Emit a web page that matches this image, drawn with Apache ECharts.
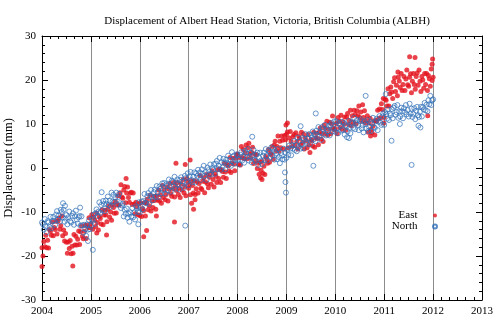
<!DOCTYPE html>
<html>
<head>
<meta charset="utf-8">
<script src="https://cdn.jsdelivr.net/npm/echarts@6/dist/echarts.min.js"></script>
<style>
html,body{margin:0;padding:0;background:#fff;}
#chart{width:500px;height:325px;}
</style>
</head>
<body>
<div id="chart"></div>
<script>
// weekly readings (mm), 52 per year
var east2004 = [-18.1,-20.0,-16.7,-17.9,-15.3,-18.1,-16.4,-18.2,-14.0,-14.4,-15.3,-12.3,-15.4,-13.5,-14.0,-12.1,-15.0,-12.1,-11.4,-13.9,-13.1,-10.9,-15.4,-14.1,-16.6,-14.9,-16.9,-19.4,-16.8,-18.3,-16.5,-19.5,-17.8,-19.4,-15.1,-17.5,-15.5,-17.5,-16.2,-14.3,-17.4,-14.5,-13.2,-15.5,-16.1,-14.4,-13.0,-16.0,-13.0,-13.5,-11.3,-13.5];
var east2005 = [-12.6,-10.6,-13.9,-11.2,-11.8,-13.3,-10.2,-12.4,-14.1,-11.0,-11.5,-12.7,-9.5,-12.9,-10.7,-9.6,-10.7,-12.2,-9.4,-8.6,-11.2,-10.0,-11.9,-8.3,-9.0,-10.3,-7.6,-10.2,-8.4,-6.3,-8.4,-5.6,-3.8,-6.6,-6.9,-5.0,-4.2,-7.9,-5.7,-4.3,-6.7,-7.8,-5.7,-5.5,-8.3,-5.7,-8.2,-10.4,-7.8,-8.8,-10.6,-8.1];
var east2006 = [-10.8,-7.9,-11.0,-9.2,-9.7,-7.9,-10.9,-7.9,-7.1,-9.5,-8.6,-6.2,-9.8,-7.5,-9.0,-6.4,-7.4,-9.4,-6.3,-7.3,-5.0,-7.5,-6.1,-8.0,-4.0,-6.7,-5.0,-7.2,-6.0,-4.3,-7.5,-4.8,-3.5,-5.8,-6.4,-4.7,-3.3,-6.6,-4.1,-5.1,-3.3,-6.0,-4.6,-6.7,-3.6,-5.0,-2.6,-5.6,-4.2,-6.3,-2.4,-3.1];
var east2007 = [-4.6,-3.8,-6.1,-2.9,-4.0,-5.7,-2.9,-6.0,-4.7,-3.1,-5.7,-3.5,-1.7,-4.6,-4.9,-3.0,-2.2,-5.6,-3.2,-1.5,-3.6,-4.5,-2.1,-1.4,-3.7,-0.6,-2.6,-4.3,-1.3,-1.9,-3.3,-0.4,-2.4,-0.2,-3.3,-0.4,-0.8,-2.1,1.1,-0.9,-2.4,0.8,0.5,-0.7,2.4,-1.0,1.1,2.2,0.9,-0.6,2.2,3.0];
var east2008 = [3.2,0.8,2.4,0.7,4.9,2.4,4.2,2.1,3.4,5.2,2.1,4.6,5.6,3.1,2.2,3.6,4.7,1.0,3.1,1.7,3.0,-0.1,1.1,-1.4,1.3,-0.5,1.5,-1.2,0.4,-1.5,2.6,2.1,1.1,4.2,1.3,3.3,3.0,4.9,2.0,5.2,6.1,3.9,4.9,7.3,3.8,6.1,4.6,7.3,6.3,4.3,7.4,6.4];
var east2009 = [7.6,8.2,4.6,6.8,8.3,6.0,4.9,7.1,7.6,5.1,8.0,6.0,4.3,7.3,6.7,5.2,8.1,5.8,7.7,4.3,6.9,6.2,4.6,7.6,5.3,3.5,6.5,6.2,5.0,8.1,4.7,6.8,7.9,6.7,5.3,8.2,9.1,6.6,7.8,6.0,9.7,9.0,7.8,10.6,7.5,8.8,10.4,7.8,10.0,11.8,9.0,8.7];
var east2010 = [8.9,10.1,7.8,11.5,10.6,9.2,12.0,8.8,10.5,9.9,11.6,8.6,11.6,12.4,9.9,10.8,13.1,9.6,11.9,10.4,13.1,12.1,10.0,13.0,11.9,14.1,11.5,12.7,10.6,14.4,11.5,13.0,10.2,10.8,11.9,8.1,10.2,11.3,8.8,8.0,9.5,10.7,7.5,10.8,10.6,13.1,11.2,13.4,11.4,14.6,13.3,15.8];
var east2011 = [11.5,15.6,15.4,14.1,18.0,14.1,16.9,18.4,17.3,15.8,19.6,20.5,17.4,18.8,16.4,20.7,19.8,18.3,21.5,17.6,19.0,20.8,17.6,20.2,22.3,18.9,18.6,20.6,21.4,17.1,19.7,21.5,19.0,17.9,20.8,21.6,18.8,22.3,19.7,17.4,20.8,20.0,18.1,21.5,19.0,21.5,17.6,21.0,20.3,18.6,22.5,19.9];
// isolated east points [year, mm]
var eastExtra = [[2004.0,-22.4],[2004.63,-22.3],[2005.12,-14.8],[2005.32,-15.2],[2005.72,-2.4],[2006.08,-15.6],[2006.14,-14.2],[2006.34,-10.9],[2006.71,-12.3],[2006.74,1.1],[2006.93,0.8],[2007.03,1.8],[2007.06,-8.0],[2007.10,-9.4],[2007.13,-7.2],[2008.47,-2.2],[2008.5,-2.6],[2008.99,9.8],[2009.02,10.2],[2010.72,7.3],[2010.99,10.2],[2011.28,21.8],[2011.52,25.3],[2011.63,25.1],[2011.89,11.9],[2011.98,23.6],[2011.99,24.8],[2012.0,20.6]];

var north2004 = [-12.4,-12.8,-14.0,-11.6,-13.3,-14.6,-12.1,-12.4,-13.4,-11.1,-13.7,-12.1,-11.1,-12.0,-12.9,-10.6,-9.8,-11.7,-10.8,-12.2,-9.5,-10.0,-11.2,-9.5,-12.2,-11.5,-10.7,-12.8,-11.2,-9.9,-12.1,-12.4,-10.9,-10.3,-12.9,-11.0,-9.7,-11.7,-12.6,-11.2,-10.9,-13.1,-11.0,-13.0,-14.7,-12.9,-13.9,-15.4,-12.8,-14.0,-11.9,-13.9];
var north2005 = [-13.1,-11.6,-12.0,-10.6,-12.7,-10.3,-9.4,-10.9,-9.9,-7.8,-10.2,-8.4,-9.6,-7.5,-8.2,-9.8,-7.4,-8.2,-6.5,-8.5,-7.4,-8.8,-5.6,-7.6,-6.1,-7.7,-6.7,-5.6,-8.3,-6.6,-5.9,-8.0,-9.1,-8.5,-8.1,-11.0,-9.5,-10.4,-9.2,-11.3,-10.4,-12.2,-10.1,-11.0,-9.1,-11.2,-10.1,-11.7,-8.7,-9.1,-10.0,-7.8];
var north2006 = [-10.1,-8.9,-7.6,-9.4,-7.5,-5.9,-7.9,-8.0,-6.4,-5.7,-8.2,-6.3,-5.0,-6.7,-7.3,-5.5,-4.9,-6.6,-4.1,-5.5,-6.6,-4.2,-4.7,-5.7,-3.5,-5.1,-3.4,-5.8,-3.7,-4.0,-5.1,-2.6,-4.2,-5.4,-2.9,-3.2,-4.2,-2.0,-4.7,-3.3,-2.6,-3.7,-4.9,-2.7,-2.1,-4.0,-3.1,-4.5,-1.8,-2.3,-3.2,-1.2];
var north2007 = [-3.9,-1.9,-0.9,-2.7,-3.2,-2.0,-1.0,-3.3,-1.2,-1.8,-0.4,-2.2,-1.0,-2.7,-0.3,-1.3,0.5,-1.8,-0.9,-2.7,0.1,-0.5,-1.4,0.8,-1.5,0.0,-0.4,0.9,-1.3,1.0,1.6,-0.2,0.5,2.3,-0.4,1.3,0.1,2.1,1.3,-0.3,1.9,1.1,2.8,0.8,1.9,0.5,3.6,1.5,2.8,1.0,1.8,3.1];
var north2008 = [2.9,1.9,0.8,3.0,3.6,1.7,2.6,1.2,3.9,3.4,2.5,4.3,1.7,2.6,3.5,1.3,2.8,4.1,1.9,1.6,3.0,3.5,0.7,2.4,3.5,1.7,0.9,2.8,3.5,1.8,4.3,2.9,1.7,4.0,3.5,2.5,4.7,2.9,4.4,1.9,3.8,3.3,2.0,4.3,2.5,1.1,3.4,2.9,2.0,4.4,1.9,3.5];
var north2009 = [2.3,4.1,3.0,5.1,4.4,2.9,5.2,4.4,6.1,4.1,5.2,3.8,6.9,4.8,6.1,4.4,5.3,6.8,4.5,6.6,7.7,6.0,5.5,6.7,7.7,5.4,7.5,6.9,8.3,6.5,7.7,6.1,8.5,7.5,9.3,7.1,8.1,6.4,9.3,8.8,7.7,9.8,7.4,8.8,8.3,9.6,7.4,9.7,10.2,8.3,8.9,10.6];
var north2010 = [8.2,10.6,9.1,7.9,10.2,9.7,8.5,10.5,8.7,10.2,7.6,9.7,9.4,8.3,10.7,9.1,7.9,10.4,10.1,9.1,11.4,8.8,10.2,10.9,9.8,8.6,10.7,11.1,9.0,9.7,8.1,10.6,10.0,9.0,10.9,8.4,9.3,10.4,8.4,10.1,11.4,9.3,9.1,10.6,11.2,8.6,10.5,11.8,10.3,9.8,11.7,12.4];
var north2011 = [9.8,12.7,12.2,11.2,13.3,10.9,12.4,12.0,13.4,11.3,13.7,14.1,12.1,12.7,14.3,11.4,12.9,11.7,13.7,12.9,11.3,13.6,12.7,14.3,12.2,13.2,11.7,14.6,12.3,13.5,11.6,12.3,13.6,11.1,13.0,13.9,12.0,11.6,12.8,13.9,11.7,13.8,13.3,14.8,13.1,14.4,12.9,15.4,14.5,16.4,14.3,15.4];
// isolated north points [year, mm]
var northExtra = [[2004.43,-8.0],[2004.47,-8.6],[2004.78,-9.0],[2004.94,-16.6],[2005.04,-18.6],[2005.22,-5.5],[2005.97,-12.8],[2006.93,-13.1],[2008.3,7.1],[2008.97,-1.0],[2008.98,-3.2],[2008.99,-5.6],[2009.29,9.5],[2009.55,0.5],[2009.6,12.4],[2010.24,7.0],[2010.28,6.8],[2010.62,16.4],[2011.03,16.8],[2011.15,6.2],[2011.32,10.0],[2011.56,0.7],[2011.7,9.6],[2011.74,9.2],[2012.0,15.6]];

var years = [2004, 2005, 2006, 2007, 2008, 2009, 2010, 2011];
var eastYears = [east2004, east2005, east2006, east2007, east2008, east2009, east2010, east2011];
var northYears = [north2004, north2005, north2006, north2007, north2008, north2009, north2010, north2011];

function buildSeries(yearArrays, extra){
	var out = [];
	for(var y = 0; y < years.length; y++){
		var arr = yearArrays[y];
		for(var i = 0; i < arr.length; i++){
			out.push([years[y] + i / 52, arr[i]]);
		}
	}
	for(var k = 0; k < extra.length; k++){
		out.push(extra[k]);
	}
	return out;
}

var serif = 'Liberation Serif, Times New Roman, serif';
var redColor = '#e3131e';
var blueColor = '#2f6fb8';

function frameAxis(pos, showLabel, min, max, interval, minorSplit, split){
	return {
		type: 'value',
		position: pos,
		min: min,
		max: max,
		interval: interval,
		axisLine: {show: true, onZero: false, lineStyle: {color: '#000', width: 1}},
		axisTick: {show: true, inside: true, length: 6, lineStyle: {color: '#000'}},
		minorTick: {show: true, splitNumber: minorSplit, length: 3, lineStyle: {color: '#000'}},
		axisLabel: {show: showLabel, fontFamily: serif, fontSize: 11, color: '#000', margin: 6,
			formatter: function(v){ return String(v); }},
		splitLine: {show: split, lineStyle: {color: '#8c8c8c', width: 1}}
	};
}

var xBottom = frameAxis('bottom', true, 2004, 2013, 1, 6, true);
var xTop = frameAxis('top', false, 2004, 2013, 1, 6, false);
var yLeft = frameAxis('left', true, -30, 30, 10, 5, false);
yLeft.name = 'Displacement (mm)';
yLeft.nameLocation = 'middle';
yLeft.nameGap = 27;
yLeft.nameMoveOverlap = false;
yLeft.nameTextStyle = {fontFamily: serif, fontSize: 12.5, color: '#000'};
var yRight = frameAxis('right', false, -30, 30, 10, 5, false);

var option = {
	animation: false,
	backgroundColor: '#fff',
	title: {
		text: 'Displacement of Albert Head Station, Victoria, British Columbia (ALBH)',
		left: 262,
		textAlign: 'center',
		top: 11,
		textStyle: {fontFamily: serif, fontSize: 11, fontWeight: 'normal', color: '#000'}
	},
	legend: {
		orient: 'vertical',
		right: 57,
		top: 205,
		align: 'right',
		itemWidth: 25,
		itemHeight: 4,
		itemGap: 0,
		textStyle: {fontFamily: serif, fontSize: 11, color: '#000'},
		data: ['East', 'North']
	},
	grid: {left: 42, right: 18, top: 36, bottom: 25, outerBoundsMode: 'none'},
	xAxis: [xBottom, xTop],
	yAxis: [yLeft, yRight],
	series: [
		{
			name: 'East',
			type: 'scatter',
			symbol: 'circle',
			symbolSize: 5,
			itemStyle: {color: redColor},
			data: buildSeries(eastYears, eastExtra)
		},
		{
			name: 'North',
			type: 'scatter',
			symbol: 'circle',
			symbolSize: 5,
			itemStyle: {color: 'rgba(255,255,255,0)', borderColor: blueColor, borderWidth: 0.9},
			data: buildSeries(northYears, northExtra)
		}
	]
};

var myChart = echarts.init(document.getElementById('chart'));
myChart.setOption(option, true);
</script>
</body>
</html>
